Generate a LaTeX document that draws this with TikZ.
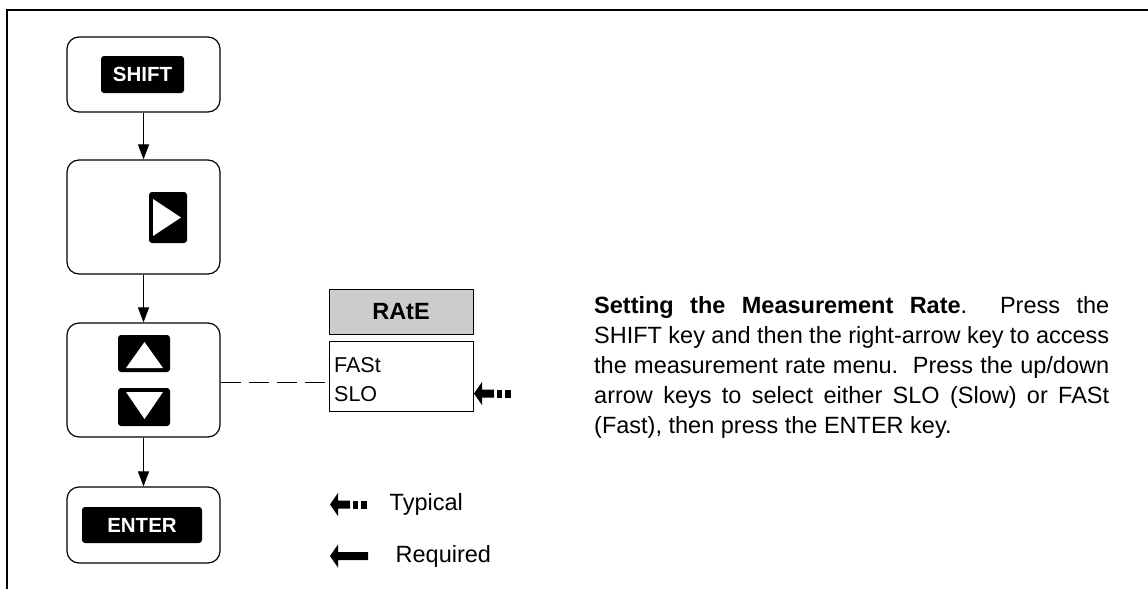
\documentclass[tikz,border=0pt]{standalone}
\usepackage{fontspec}
\setmainfont{Liberation Sans}
\usetikzlibrary{arrows.meta}
\tikzset{
  panel/.style={draw, line width=1.2pt, rounded corners=12pt, minimum width=153pt, inner sep=0pt},
  keybox/.style={fill=black, rounded corners=3pt, text=white, inner sep=0pt, font=\fontsize{20.5}{24}\selectfont\bfseries},
  flow/.style={-{Triangle[length=15pt,width=11pt]}, line width=1pt},
  menubox/.style={draw, line width=1pt, minimum width=144pt, inner sep=0pt},
  link/.style={line width=1pt, dash pattern=on 20pt off 8pt},
  lbl/.style={inner sep=0pt, font=\fontsize{23.5}{28}\selectfont},
  optlbl/.style={inner sep=0pt, font=\fontsize{21.5}{26}\selectfont},
  pics/typarr/.style={code={
    \fill (0,0) -- (8,-11.5) -- (8,-4) -- (20,-4) -- (20,4) -- (8,4) -- (8,11.5) -- cycle;
    \fill (23,-4) rectangle (28,4);
    \fill (31,-4) rectangle (37,4);
  }},
  pics/reqarr/.style={code={
    \fill (0,0) -- (8,-11.5) -- (8,-4) -- (38,-4) -- (38,4) -- (8,4) -- (8,11.5) -- cycle;
  }},
}
\begin{document}
\begin{tikzpicture}[x=1pt,y=-1pt]
\useasboundingbox (0,0) rectangle (1148,589);
% frame (top and left only)
\draw[line width=2pt] (7,589) -- (7,10) -- (1148,10);

% panels
\node[panel, minimum height=75pt] (b1) at (143.5,74.5) {};
\node[panel, minimum height=114pt] (b2) at (143.5,217) {};
\node[panel, minimum height=114pt] (b3) at (143.5,380) {};
\node[panel, minimum height=76pt] (b4) at (143.5,525) {};

% keys
\node[keybox, minimum width=83pt, minimum height=37pt] (kshift) at (142.5,74.5) {SHIFT};
\node[keybox, minimum width=38pt, minimum height=51pt] (kright) at (168,217.5) {};
\node[keybox, minimum width=52pt, minimum height=37pt] (kup) at (144,353.5) {};
\node[keybox, minimum width=52pt, minimum height=38pt] (kdown) at (144,407) {};
\node[keybox, minimum width=120pt, minimum height=36pt] (kenter) at (142,525) {ENTER};

% key glyphs
\fill[white] (153,199) -- (153,236) -- (181,217.5) -- cycle;
\fill[white] (126,368) -- (163,368) -- (144.5,342) -- cycle;
\fill[white] (126,392) -- (163,392) -- (144.5,419) -- cycle;

% flow arrows
\draw[flow] (b1.south) -- (b2.north);
\draw[flow] (b2.south) -- (b3.north);
\draw[flow] (b3.south) -- (b4.north);

% menu
\node[menubox, fill=black!20, minimum height=45pt, font=\fontsize{23.5}{28}\selectfont\bfseries] (rate) at (401,311.5) {RAtE};
\node[menubox, minimum height=70pt] (opt) at (401,376) {};
\node[optlbl, anchor=base west] (fast) at (334,372) {FASt};
\node[optlbl, anchor=base west] (slo) at (334,401) {SLO};

\coordinate (dl) at (0,382);
\draw[link] (b3.east |- dl) -- (opt.west |- dl);

% typical marker
\coordinate (tip) at (474,393.5);
\pic at (tip) {typarr};

% legend
\pic at (330,504.5) {typarr};
\node[lbl, anchor=base west] (typ) at (389.5,510) {Typical};
\pic at (330,556) {reqarr};
\node[lbl, anchor=base west] (req) at (395.5,562) {Required};

% paragraph
\node[anchor=base west, inner sep=0pt, text width=515pt, align=justify,
      font=\fontsize{23.5}{30}\selectfont] (para) at (594,313)
{\textbf{Setting the Measurement Rate}.\ \ Press the\linebreak
SHIFT key and then the right-arrow key to access\linebreak
the measurement rate menu.\ \ Press the up/down\linebreak
arrow keys to select either SLO (Slow) or FASt\linebreak
(Fast), then press the ENTER key.};
\end{tikzpicture}
\end{document}
